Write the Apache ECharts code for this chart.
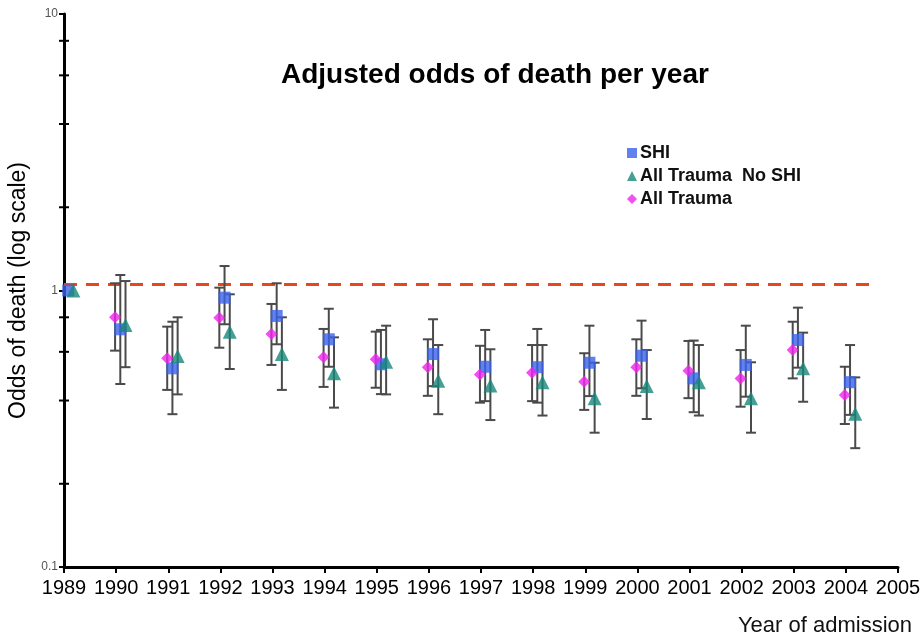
<!DOCTYPE html>
<html>
<head>
<meta charset="utf-8">
<script src="https://cdn.jsdelivr.net/npm/echarts@6/dist/echarts.min.js"></script>
<style>html,body{margin:0;padding:0;background:#fff}#c{width:920px;height:639px}</style>
</head>
<body>
<div id="c"></div>
<script>
const years = [1989,1990,1991,1992,1993,1994,1995,1996,1997,1998,1999,2000,2001,2002,2003,2004];
const xTicks = [1989,1990,1991,1992,1993,1994,1995,1996,1997,1998,1999,2000,2001,2002,2003,2004,2005];
const yTickLabels = [0.1, 1, 10];
const yMinorTicks = [0.2,0.4,0.6,0.8,2,4,6,8];

const shi     = [1.0, 0.724, 0.523, 0.942, 0.809, 0.666, 0.541, 0.589, 0.530, 0.528, 0.548, 0.581, 0.481, 0.538, 0.662, 0.466];
const shiLow  = [null,0.459, 0.357, 0.755, 0.639, 0.530, 0.422, 0.451, 0.398, 0.393, 0.415, 0.443, 0.363, 0.413, 0.526, 0.355];
const shiHigh = [null,1.138, 0.771, 1.226, 1.062, 0.859, 0.720, 0.787, 0.720, 0.726, 0.746, 0.778, 0.659, 0.746, 0.867, 0.635];

const noShi     = [1.0, 0.750, 0.580, 0.710, 0.589, 0.502, 0.553, 0.472, 0.453, 0.466, 0.408, 0.451, 0.466, 0.408, 0.523, 0.358];
const noShiLow  = [null,0.528, 0.421, 0.520, 0.437, 0.377, 0.421, 0.357, 0.340, 0.353, 0.306, 0.343, 0.353, 0.306, 0.396, 0.269];
const noShiHigh = [null,1.082, 0.800, 0.969, 0.800, 0.677, 0.746, 0.635, 0.613, 0.635, 0.548, 0.609, 0.635, 0.550, 0.704, 0.485];

const allT     = [1.0, 0.800, 0.569, 0.797, 0.696, 0.574, 0.564, 0.528, 0.497, 0.504, 0.468, 0.528, 0.513, 0.481, 0.609, 0.419];
const allTLow  = [null,0.606, 0.437, 0.621, 0.538, 0.448, 0.445, 0.416, 0.393, 0.398, 0.370, 0.416, 0.408, 0.380, 0.481, 0.329];
const allTHigh = [null,1.062, 0.740, 1.024, 0.894, 0.726, 0.710, 0.666, 0.631, 0.635, 0.593, 0.666, 0.657, 0.609, 0.771, 0.530];

const refLine = 1.05;
const refLineEnd = 2004.55;

const names = ['SHI', 'All Trauma  No SHI', 'All Trauma'];
const colors = { shi: '#3862EA', noShi: '#17877A', allT: '#F022EC' };
const offsets = { allT: -0.02, shi: 0.08, noShi: 0.18 };

function pts(vals, off) { return years.map((y, i) => [y + off, vals[i]]); }
function bars(low, high, off) {
  const out = [];
  years.forEach((y, i) => { if (low[i] != null) out.push([y + off, low[i], high[i]]); });
  return out;
}
function errSeries(low, high, off) {
  return {
    type: 'custom', silent: true, z: 2, clip: false,
    data: bars(low, high, off),
    renderItem: function (params, api) {
      const x = api.value(0);
      const lo = api.coord([x, api.value(1)]);
      const hi = api.coord([x, api.value(2)]);
      const w = 5;
      const st = { stroke: '#4a4a4a', lineWidth: 2 };
      return { type: 'group', children: [
        { type: 'line', shape: { x1: lo[0], y1: lo[1], x2: hi[0], y2: hi[1] }, style: st },
        { type: 'line', shape: { x1: lo[0]-w, y1: lo[1], x2: lo[0]+w, y2: lo[1] }, style: st },
        { type: 'line', shape: { x1: hi[0]-w, y1: hi[1], x2: hi[0]+w, y2: hi[1] }, style: st }
      ]};
    }
  };
}

const FF = 'Liberation Sans, Arial, sans-serif';
const chart = echarts.init(document.getElementById('c'));
chart.setOption({
  animation: false,
  backgroundColor: '#fff',
  textStyle: { fontFamily: FF },
  title: {
    text: 'Adjusted odds of death per year',
    left: 276, top: 56,
    textStyle: { fontSize: 28, fontWeight: 'bold', color: '#000', fontFamily: FF }
  },
  legend: {
    data: names,
    orient: 'vertical',
    left: 622, top: 139,
    itemWidth: 10, itemHeight: 10, itemGap: 5,
    textStyle: { fontSize: 18, fontWeight: 'bold', color: '#111', padding: [0,0,0,-2] }
  },
  grid: { left: 64, right: 22, top: 14, bottom: 72, outerBoundsMode: 'none', containLabel: false },
  xAxis: {
    type: 'value', min: 1989, max: 2005, interval: 1,
    name: 'Year of admission', nameLocation: 'end',
    nameGap: 14,
    nameTextStyle: { fontSize: 22, color: '#111', align: 'right', verticalAlign: 'top', padding: [48, 0, 0, 0] },
    axisLine: { onZero: false, lineStyle: { color: '#000', width: 3 } },
    axisTick: { length: 6, lineStyle: { color: '#000', width: 2 } },
    axisLabel: { fontSize: 20, color: '#000', margin: 11, formatter: v => String(Math.round(v)) },
    splitLine: { show: false }
  },
  yAxis: {
    type: 'log', logBase: 10, min: 0.1, max: 10,
    name: 'Odds of death (log scale)', nameLocation: 'middle', nameGap: 33,
    nameTextStyle: { fontSize: 23, color: '#000' },
    axisLine: { lineStyle: { color: '#000', width: 3 } },
    axisTick: { length: 5, lineStyle: { color: '#000', width: 2 } },
    axisLabel: { fontSize: 12, color: '#555', margin: 6,
      formatter: v => { const r = Math.round(v * 10) / 10; return yTickLabels.indexOf(r) >= 0 ? String(r) : ''; } },
    splitLine: { show: false }
  },
  series: [
    {
      type: 'custom', silent: true, z: 5, clip: false,
      data: yMinorTicks.map(v => [1989, v]),
      renderItem: function (params, api) {
        const p = api.coord([api.value(0), api.value(1)]);
        return { type: 'line', shape: { x1: p[0]-5, y1: p[1], x2: p[0]+5, y2: p[1] }, style: { stroke: '#000', lineWidth: 2 } };
      }
    },
    errSeries(shiLow, shiHigh, offsets.shi),
    errSeries(noShiLow, noShiHigh, offsets.noShi),
    errSeries(allTLow, allTHigh, offsets.allT),
    {
      name: names[0], type: 'scatter', symbol: 'rect', symbolSize: 12, z: 4,
      itemStyle: { color: colors.shi }, data: pts(shi, offsets.shi),
      markLine: {
        silent: true, symbol: 'none', z: 1,
        lineStyle: { color: '#E8461E', type: [13, 9], width: 3 },
        label: { show: false },
        data: [[{ coord: [1989, refLine] }, { coord: [refLineEnd, refLine] }]]
      }
    },
    { name: names[1], type: 'scatter', symbol: 'triangle', symbolSize: 14, z: 4,
      itemStyle: { color: colors.noShi }, data: pts(noShi, offsets.noShi) },
    { name: names[2], type: 'scatter', symbol: 'diamond', symbolSize: 12, z: 4,
      itemStyle: { color: colors.allT }, data: pts(allT, offsets.allT) }
  ]
});
</script>
</body>
</html>
